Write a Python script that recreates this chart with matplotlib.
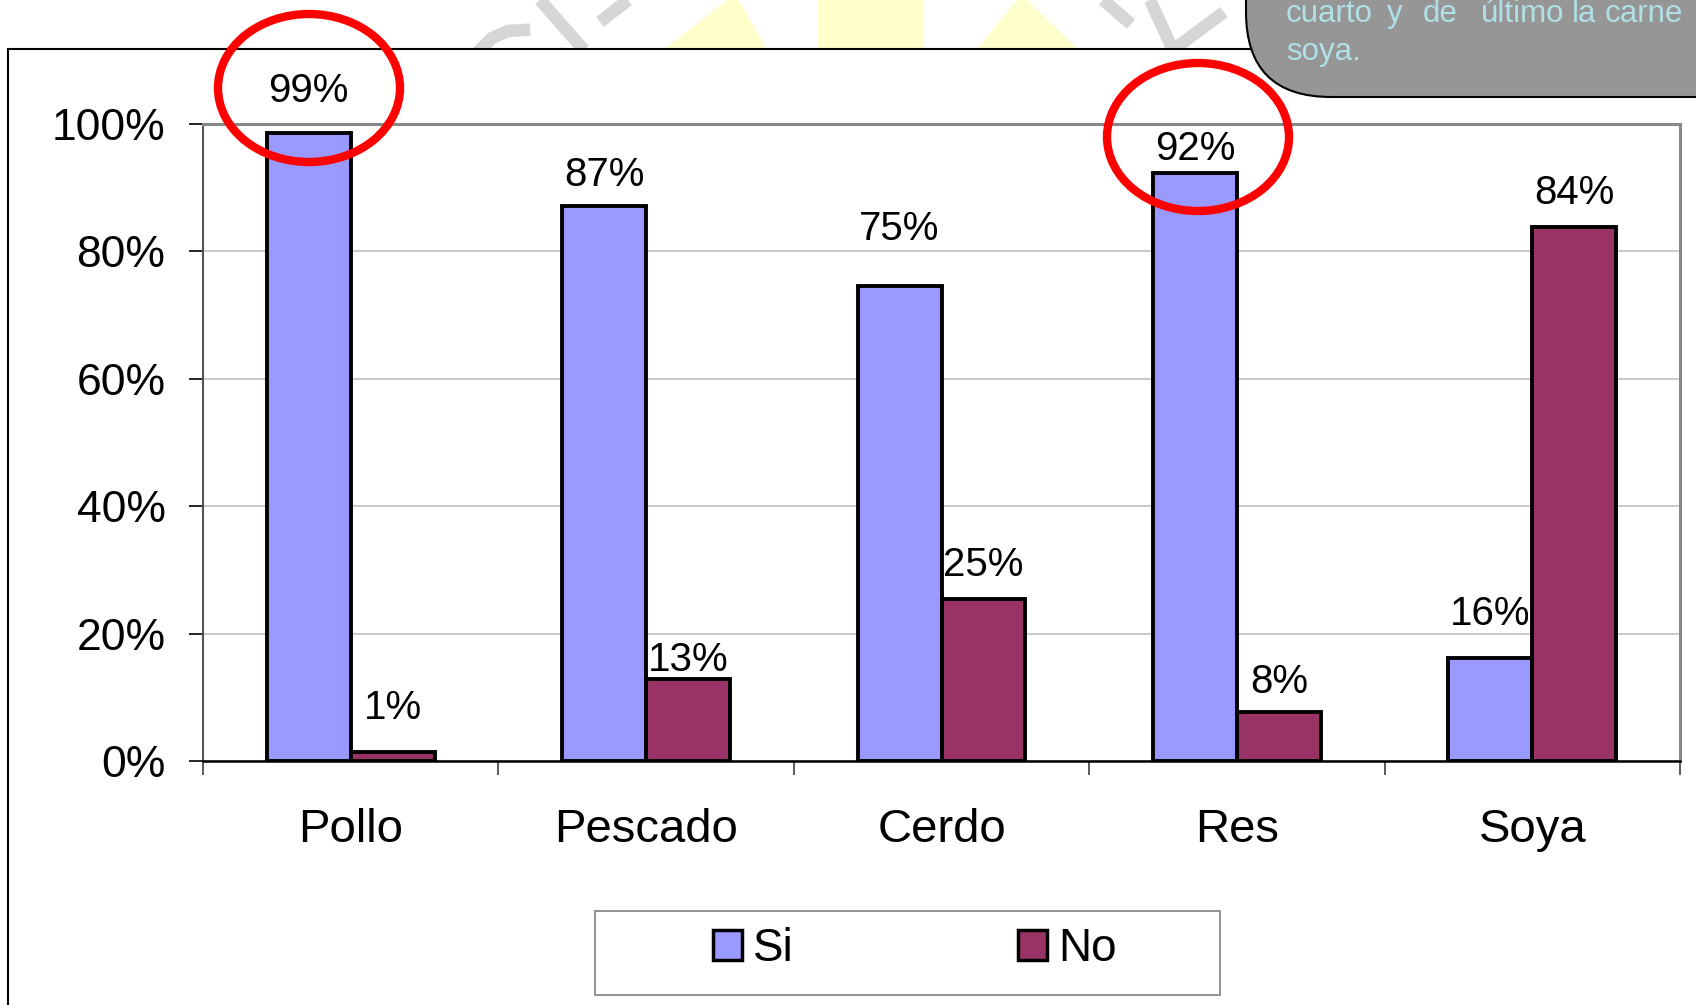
import numpy as np
import matplotlib.pyplot as plt
from matplotlib.patches import Rectangle, Ellipse, FancyBboxPatch, Polygon, Patch
from matplotlib.lines import Line2D
from matplotlib.transforms import IdentityTransform

plt.rcParams['font.family'] = ['Liberation Sans', 'DejaVu Sans']

# [Data]______________________________________________________________________

categories = ["Pollo", "Pescado", "Cerdo", "Res", "Soya"]
si = [98.6, 87.2, 74.6, 92.3, 16.2]
no = [1.4, 12.8, 25.4, 7.7, 83.8]
series_names = ["Si", "No"]
yticks = [0, 20, 40, 60, 80, 100]
note_words = ["cuarto", "y", "de", "último", "la", "carne"]
note_line2 = "soya."

# the value labels were moved by hand in the original, offsets in % units
si_lab_off = [6.6, 4.8, 8.9, 3.8, 6.9]
no_lab_off = [6.9, 3.0, 5.4, 4.7, 5.3]

c_si = "#9999ff"
c_no = "#993366"

# [Figure]____________________________________________________________________

W, H = 1696, 1005
fig = plt.figure(figsize=(W / 100, H / 100), dpi=100)
px = IdentityTransform()


def top(y):
    # pixel row counted from the top -> display coords
    return H - y


# watermark remains above the chart frame
wm = "#d6d6d6"
for (x0, y0), (x1, y1) in [((540, 0), (584, 50)), ((628, 0), (600, 22)),
                           ((1103, 0), (1131, 24)), ((1150, 0), (1173, 50)),
                           ((1173, 50), (1224, 12))]:
    fig.add_artist(Line2D([x0, x1], [top(y0), top(y1)], transform=px, color=wm,
                          lw=9, solid_capstyle="butt", zorder=-3))
fig.add_artist(Line2D([480, 492, 508, 524], [top(50), top(38), top(31), top(30)],
                      transform=px, color=wm, lw=9, zorder=-3))
yel = "#ffffcc"
for pts in [[(663, 50), (767, 50), (739, 0), (727, 0)],
            [(818, 50), (923, 50), (923, 0), (818, 0)],
            [(976, 50), (1079, 50), (1027, 0), (1017, 0)]]:
    fig.add_artist(Polygon([(a, top(b)) for a, b in pts], transform=px,
                           closed=True, fc=yel, ec="none", zorder=-3))

# chart frame
fig.add_artist(Rectangle((8, top(1040)), 1760, 1040 - 49, transform=px,
                         fc="white", ec="black", lw=1.5, zorder=-2))

# [Bars]______________________________________________________________________

ax = fig.add_axes([203 / W, 1 - 761 / H, (1680 - 203) / W, (761 - 124) / H])
x = np.arange(len(categories))
bw = 0.284
ax.bar(x - bw / 2, si, bw, color=c_si, edgecolor="black", linewidth=2.8, zorder=3)
ax.bar(x + bw / 2, no, bw, color=c_no, edgecolor="black", linewidth=2.8, zorder=3)

for i in range(len(categories)):
    ax.text(x[i] - bw / 2, si[i] + si_lab_off[i], f"{si[i]:.0f}%", ha="center",
            va="center", fontsize=29, zorder=4)
    ax.text(x[i] + bw / 2, no[i] + no_lab_off[i], f"{no[i]:.0f}%", ha="center",
            va="center", fontsize=29, zorder=4)

ax.set_xlim(-0.5, len(categories) - 0.5)
ax.set_ylim(0, 100)
ax.set_yticks(yticks, [f"{v}%" for v in yticks])
ax.set_xticks(x, categories)
ax.set_xticks(np.arange(-0.5, len(categories), 1), minor=True)
ax.tick_params(axis="y", length=10, width=1.2, pad=17, labelsize=32, direction="out")
ax.tick_params(axis="x", which="major", length=0, pad=34, labelsize=34)
ax.tick_params(axis="x", which="minor", length=10, width=1.2, color="#404040",
               direction="out")
ax.yaxis.grid(True, color="#c0c0c0", lw=1.2)
ax.set_axisbelow(True)

ax.spines["top"].set_color("#888888")
ax.spines["top"].set_linewidth(2.2)
ax.spines["right"].set_color("#888888")
ax.spines["right"].set_linewidth(2.2)
ax.spines["left"].set_color("#555555")
ax.spines["left"].set_linewidth(1.5)
ax.spines["bottom"].set_color("black")
ax.spines["bottom"].set_linewidth(1.8)

# [Legend]____________________________________________________________________

fig.add_artist(Rectangle((595, top(995)), 625, 84, transform=px, fc="white",
                         ec="#808080", lw=1.2, zorder=1))
handles = [Patch(facecolor=c_si, edgecolor="black", lw=2.5),
           Patch(facecolor=c_no, edgecolor="black", lw=2.5)]
fig.legend(handles, series_names, loc="center", bbox_to_anchor=(914.5 / W, 1 - 949 / H),
           ncol=2, frameon=False, fontsize=33, handlelength=0.63, handleheight=0.63,
           handletextpad=0.24, columnspacing=4.9)

# [Note box + circles]________________________________________________________

fig.add_artist(FancyBboxPatch((1246, top(97)), 700, 300, transform=px,
                              boxstyle="round,pad=0,rounding_size=85",
                              fc="#969696", ec="black", lw=1.5, zorder=6))
note_x = [1286, 1387, 1423, 1481, 1572, 1605]
for xp, w in zip(note_x, note_words):
    fig.text(xp, top(22), w, transform=px, fontsize=22.5, color="#b0e0e6",
             va="baseline", zorder=7)
fig.text(1286, top(60), note_line2, transform=px, fontsize=22.5, color="#b0e0e6",
         va="baseline", zorder=7)

for cx, cy in [(309, 88), (1198, 137)]:
    fig.add_artist(Ellipse((cx, top(cy)), 182, 148, transform=px, fill=False,
                           ec="#ff0000", lw=6, zorder=8))

fig.savefig("out.png", dpi=100)
